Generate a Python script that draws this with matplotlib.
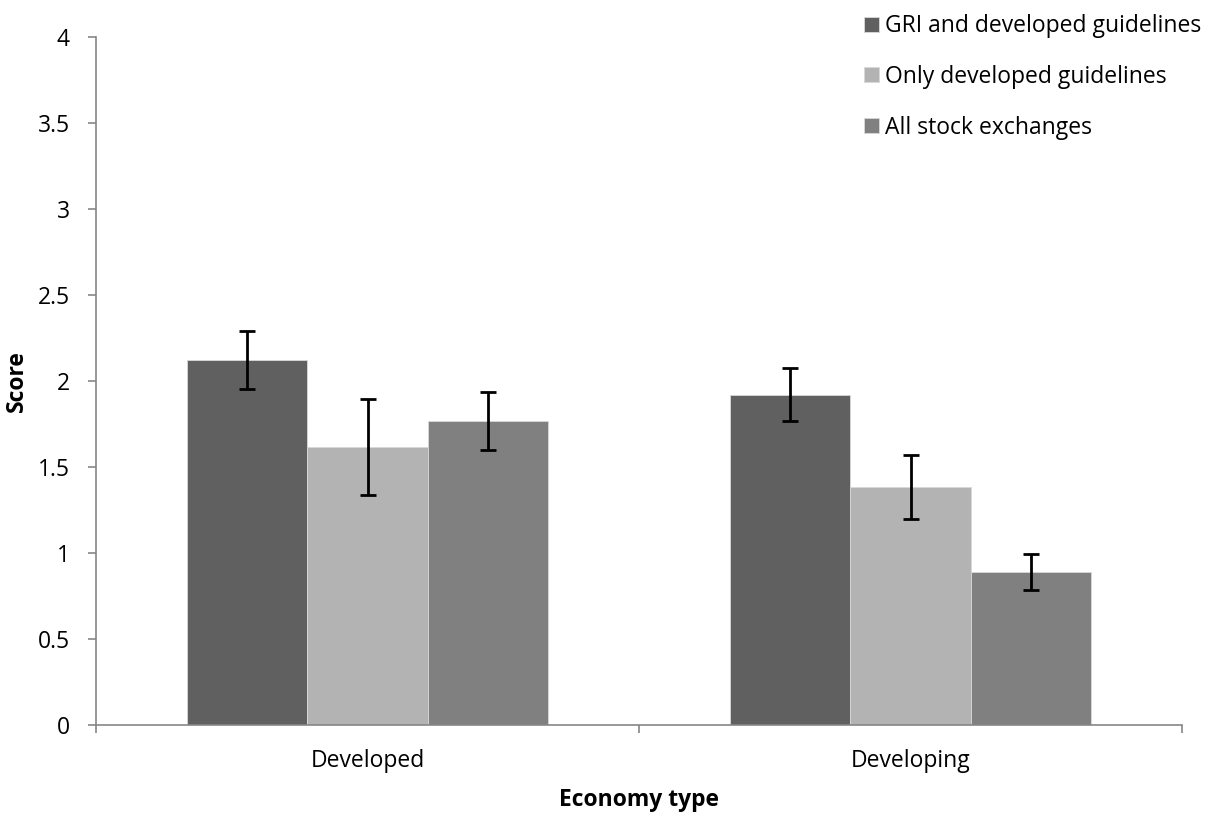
import matplotlib.pyplot as plt
import numpy as np

# scores per economy type, one list per guideline group
economies = ["Developed", "Developing"]
groups = ["GRI and developed guidelines", "Only developed guidelines", "All stock exchanges"]
gri_dev = [2.12, 1.92]
only_dev = [1.615, 1.385]
all_se = [1.768, 0.888]
gri_err = [0.168, 0.155]
only_err = [0.278, 0.185]
all_err = [0.168, 0.104]

plt.rcParams['font.family'] = ['Open Sans', 'DejaVu Sans']
fs = 16.5

fig = plt.figure(figsize=(12.1, 8.16), dpi=100)
ax = fig.add_axes([96 / 1210, 1 - 725 / 816, 1086 / 1210, 688 / 816])

x = np.arange(len(economies))
w = 0.222
colors = ["#606060", "#b3b3b3", "#808080"]
series = [gri_dev, only_dev, all_se]
errs = [gri_err, only_err, all_err]
for i, (vals, err, c, lab) in enumerate(zip(series, errs, colors, groups)):
    ax.bar(x + (i - 1) * w, vals, w, color=c, edgecolor="#d9d9d9", linewidth=0.6, label=lab)
    ax.errorbar(x + (i - 1) * w, vals, yerr=err, fmt="none", ecolor="black",
                elinewidth=2, capsize=6, capthick=2)

ax.set_xlim(-0.5, 1.5)
ax.set_ylim(0, 4)
ax.set_yticks(np.arange(0, 4.01, 0.5))
ax.set_yticklabels(["0", "0.5", "1", "1.5", "2", "2.5", "3", "3.5", "4"])
ax.set_xticks(x)
ax.set_xticklabels(economies)
ax.set_xticks([-0.5, 0.5, 1.5], minor=True)
ax.tick_params(axis="x", which="major", length=0, pad=17, labelsize=fs)
ax.tick_params(axis="x", which="minor", length=6, color="#868686", width=1.2)
ax.tick_params(axis="y", length=6, color="#868686", width=1.2, pad=13, labelsize=fs)

for s in ["top", "right"]:
    ax.spines[s].set_visible(False)
for s in ["left", "bottom"]:
    ax.spines[s].set_color("#868686")
    ax.spines[s].set_linewidth(1.2)

ax.set_xlabel("Economy type", fontsize=fs, fontweight="bold")
ax.xaxis.set_label_coords(0.5, -0.092)
ax.set_ylabel("Score", fontsize=fs, fontweight="bold")
ax.yaxis.set_label_coords(-0.062, 0.5)

leg = fig.legend(loc="upper left", bbox_to_anchor=(855 / 1210, 1 - 5 / 816), frameon=False,
                 fontsize=fs, handlelength=0.64, handleheight=0.64, handletextpad=0.25,
                 labelspacing=1.17, borderaxespad=0)

fig.savefig("out.png", dpi=100)
